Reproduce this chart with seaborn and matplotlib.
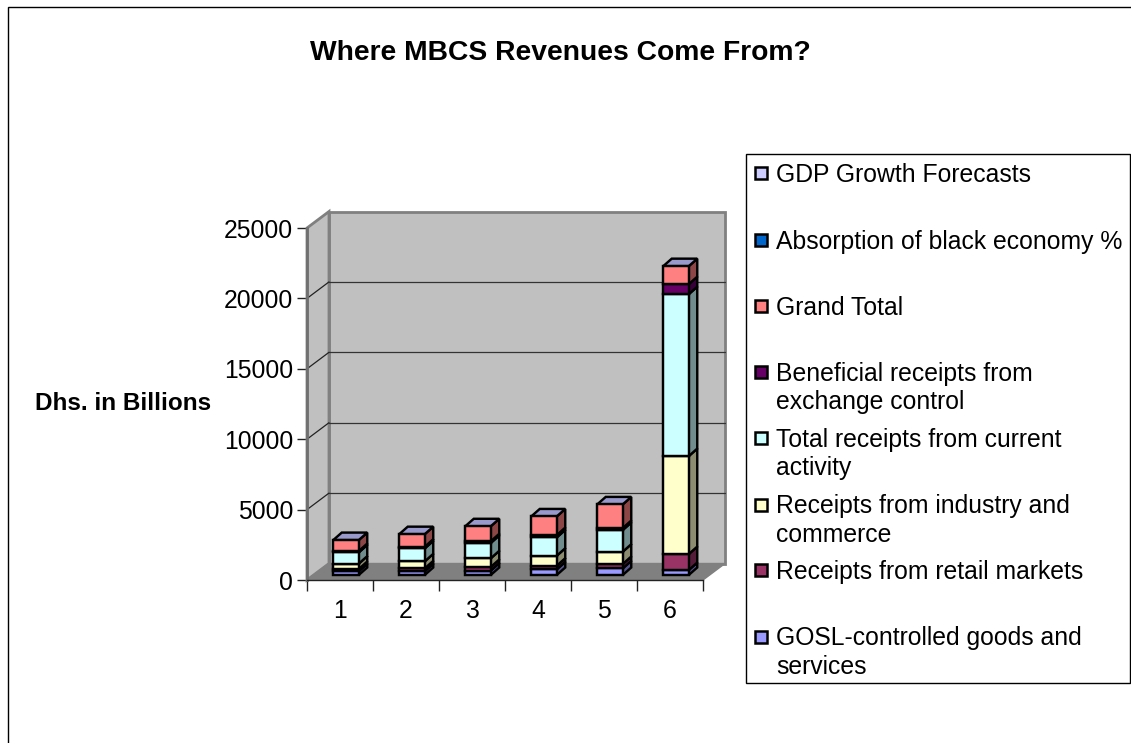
import matplotlib
matplotlib.use("Agg")
import matplotlib.pyplot as plt
from matplotlib.patches import Polygon, Rectangle
import numpy as np
import pandas as pd
import seaborn as sns

categories = ["1", "2", "3", "4", "5", "6"]
gosl = [260, 260, 310, 400, 470, 350]
retail = [165, 210, 260, 260, 310, 1135]
industry = [380, 500, 615, 710, 875, 6960]
current = [800, 920, 1090, 1300, 1540, 11500]
exchange = [95, 120, 120, 165, 140, 710]
grand = [780, 890, 1065, 1325, 1680, 1280]

series_names = ["GOSL-controlled goods and services", "Receipts from retail markets",
                "Receipts from industry and commerce", "Total receipts from current activity",
                "Beneficial receipts from exchange control", "Grand Total"]
series_values = [gosl, retail, industry, current, exchange, grand]
series_colors = ["#9999FF", "#993366", "#FFFFCC", "#CCFFFF", "#660066", "#FF8080"]

legend_labels = ["GDP Growth Forecasts", "Absorption of black economy %", "Grand Total",
                 "Beneficial receipts from\nexchange control",
                 "Total receipts from current\nactivity",
                 "Receipts from industry and\ncommerce", "Receipts from retail markets",
                 "GOSL-controlled goods and\nservices"]
legend_colors = ["#CCCCFF", "#0066CC", "#FF8080", "#660066", "#CCFFFF", "#FFFFCC", "#993366", "#9999FF"]
yticks = [0, 5000, 10000, 15000, 20000, 25000]

W, H = 1131, 743
sns.set_theme(style="white")
plt.rcParams["font.family"] = ["Liberation Sans", "DejaVu Sans"]
fig = plt.figure(figsize=(W / 100, H / 100), dpi=100, facecolor="white")


def box(l, t, r, b):
    return [l / W, 1 - b / H, (r - l) / W, (b - t) / H]


ax = fig.add_axes(box(307, 228, 703, 580))
ax.set_xlim(-0.5, 5.5)
ax.set_ylim(0, 25000)
ax.patch.set_visible(False)

px_x = 6 / 396
px_y = 25000 / 352
wall_dx, wall_dy = 22 * px_x, 16.5 * px_y
bar_dx, bar_dy = 8.5 * px_x, 7.5 * px_y

# 3-D box: back wall, side wall, floor
x0, x1 = -0.5, 5.5
top = 25000
wall_col = "#C0C0C0"
edge_col = "#808080"
ax.add_patch(Polygon([(x0 + wall_dx, wall_dy), (x1 + wall_dx, wall_dy), (x1 + wall_dx, top + wall_dy), (x0 + wall_dx, top + wall_dy)],
                     fc=wall_col, ec=edge_col, lw=2, clip_on=False, zorder=1))
ax.add_patch(Polygon([(x0, 0), (x0 + wall_dx, wall_dy), (x0 + wall_dx, top + wall_dy), (x0, top)],
                     fc=wall_col, ec=edge_col, lw=2, clip_on=False, zorder=1))
ax.add_patch(Polygon([(x0, 0), (x1, 0), (x1 + wall_dx, wall_dy), (x0 + wall_dx, wall_dy)],
                     fc=edge_col, ec=edge_col, lw=1, clip_on=False, zorder=1.1))
for t in yticks[1:-1]:
    ax.plot([x0 + wall_dx, x1 + wall_dx], [t + wall_dy] * 2, color="#333333", lw=0.9, clip_on=False, zorder=1.2)
    ax.plot([x0, x0 + wall_dx], [t, t + wall_dy], color="#222222", lw=0.9, clip_on=False, zorder=1.2)

df = pd.DataFrame(series_values, index=series_names, columns=categories).T


def shade(c, f):
    return tuple(np.array(matplotlib.colors.to_rgb(c)) * f)


# stacked front faces through seaborn, with the depth faces behind their edges
bottoms = np.zeros(len(categories))
bar_width = 25.5 / 66
shift = 6 / 66
centres = np.arange(len(categories)) + shift
lift = 5 * px_y
for name, color in zip(series_names, series_colors):
    vals = df[name].to_numpy(float)
    sns.barplot(x=centres, y=vals, bottom=bottoms + lift, color=color, width=bar_width, saturation=1,
                edgecolor="black", linewidth=1.75, ax=ax, zorder=3, native_scale=True, clip_on=False)
    for c, b, v in zip(centres, bottoms + lift, vals):
        r = c + bar_width / 2
        ax.add_patch(Polygon([(r, b), (r + bar_dx, b + bar_dy), (r + bar_dx, b + v + bar_dy), (r, b + v)],
                             fc=shade(color, 0.55), ec="black", lw=1.75, clip_on=False, zorder=2.9))
    bottoms = bottoms + vals
for c, b in zip(centres, bottoms + lift):
    l, r = c - bar_width / 2, c + bar_width / 2
    ax.add_patch(Polygon([(l, b), (r, b), (r + bar_dx, b + bar_dy), (l + bar_dx, b + bar_dy)],
                         fc="#9999CC", ec="black", lw=1.75, clip_on=False, zorder=2.9))

ax.set_xlim(-0.5, 5.5)
ax.set_ylim(0, 25000)
ax.set_yticks(yticks)
ax.set_xticks(np.arange(-0.5, 6, 1), minor=False)
ax.set_xticklabels([""] * 7)
ax.set_xticks(np.arange(len(categories)), minor=True)
ax.set_xticklabels(categories, minor=True)
ax.set_xlabel("")
ax.set_ylabel("")
ax.tick_params(axis="x", which="major", length=8, width=1, color="#222222", direction="out", bottom=True)
ax.tick_params(axis="x", which="minor", length=0, labelsize=17.8, pad=14, labelcolor="black", bottom=True)
ax.tick_params(axis="y", length=7, width=1, color="#222222", labelsize=17.8, pad=3, labelcolor="black", left=True)
for s in ["top", "right"]:
    ax.spines[s].set_visible(False)
ax.spines["left"].set_color("#707070")
ax.spines["left"].set_linewidth(2)
ax.spines["bottom"].set_color("#222222")
ax.spines["bottom"].set_linewidth(1)
ax.spines["left"].set_zorder(1.3)
ax.spines["bottom"].set_zorder(1.3)

# chart frame
fig.add_artist(Rectangle((8 / W, -0.1), 2, 1.1 - 7 / H, fc="none", ec="black", lw=1, transform=fig.transFigure))
fig.text(560 / W, 1 - 53.5 / H, "Where MBCS Revenues Come From?", fontsize=20.3, fontweight="bold",
         ha="center", va="center", color="black")
fig.text(123 / W, 1 - 403.5 / H, "Dhs. in Billions", fontsize=17.5, fontweight="bold",
         ha="center", va="center", color="black")

# legend
fig.add_artist(Rectangle((746 / W, 1 - 683 / H), 384 / W, 529 / H, fc="white", ec="black", lw=1,
                         transform=fig.transFigure, zorder=5))
first_line_y = [173, 240, 306, 372, 438, 505, 570, 637]
for y, lab, col in zip(first_line_y, legend_labels, legend_colors):
    fig.add_artist(Rectangle((755 / W, 1 - (y + 6) / H), 12 / W, 12 / H, fc=col, ec="black", lw=1.8,
                             transform=fig.transFigure, zorder=6))
    fig.text(776 / W, 1 - (y - 10.5) / H, lab, fontsize=17.8, ha="left", va="top", color="black",
             linespacing=1.22, zorder=6)

fig.savefig("out.png", dpi=100)
